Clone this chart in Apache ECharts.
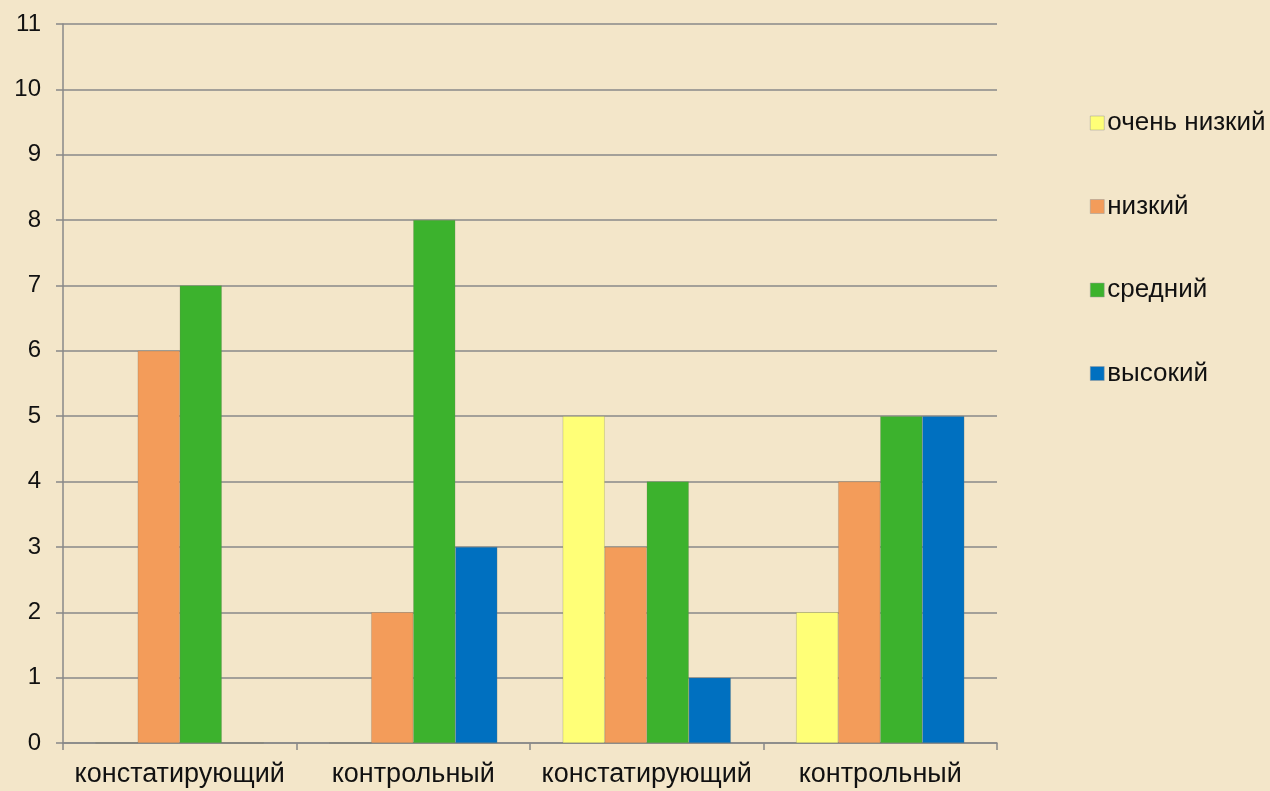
<!DOCTYPE html>
<html><head><meta charset="utf-8">
<script src="https://cdn.jsdelivr.net/npm/echarts@6/dist/echarts.min.js"></script>
<style>html,body{margin:0;padding:0;background:#F3E6C9;}#c{width:1270px;height:791px;}</style>
</head><body><div id="c"></div>
<script>
var categories = ['констатирующий', 'контрольный', 'констатирующий', 'контрольный'];
var seriesNames = ['очень низкий', 'низкий', 'средний', 'высокий'];
var veryLow = [0, 0, 5, 2];
var low = [6, 2, 3, 4];
var medium = [7, 8, 4, 5];
var high = [0, 3, 1, 5];
var colors = ['#FFFF77', '#F39C5A', '#3CB22D', '#0070C0'];
var values = [veryLow, low, medium, high];

var chart = echarts.init(document.getElementById('c'));
chart.setOption({
  backgroundColor: '#F3E6C9',
  animation: false,
  grid: {left: 63, right: 273, top: 24, bottom: 48, containLabel: false},
  legend: {
    orient: 'vertical', left: 1085, top: 105,
    itemWidth: 14, itemHeight: 14, itemGap: 57.5,
    icon: 'rect',
    itemStyle: {borderColor: '#999', borderWidth: 0.5},
    textStyle: {fontFamily: 'Liberation Sans', fontSize: 26, color: '#111', lineHeight: 26, padding: [0, 0, 0, -2]},
    data: seriesNames
  },
  xAxis: {
    type: 'category', data: categories,
    axisLine: {lineStyle: {color: '#888', width: 1.5}},
    axisTick: {show: true, interval: 0, length: 7, lineStyle: {color: '#888', width: 1.5}},
    axisLabel: {interval: 0, fontFamily: 'Liberation Sans', fontSize: 27, color: '#111', margin: 18}
  },
  yAxis: {
    type: 'value', min: 0, max: 11, interval: 1,
    axisLine: {show: true, lineStyle: {color: '#888', width: 1.5}},
    axisTick: {show: true, length: 7, lineStyle: {color: '#888', width: 1.5}},
    splitLine: {lineStyle: {color: '#888', width: 1.5}},
    axisLabel: {fontFamily: 'Liberation Sans', fontSize: 24, color: '#111', margin: 22}
  },
  series: seriesNames.map(function (n, i) {
    return {
      name: n, type: 'bar', data: values[i],
      barGap: '0%', barCategoryGap: '28%',
      itemStyle: {color: colors[i], borderColor: 'rgba(120,120,100,0.5)', borderWidth: 0.5}
    };
  })
});
</script>
</body></html>
